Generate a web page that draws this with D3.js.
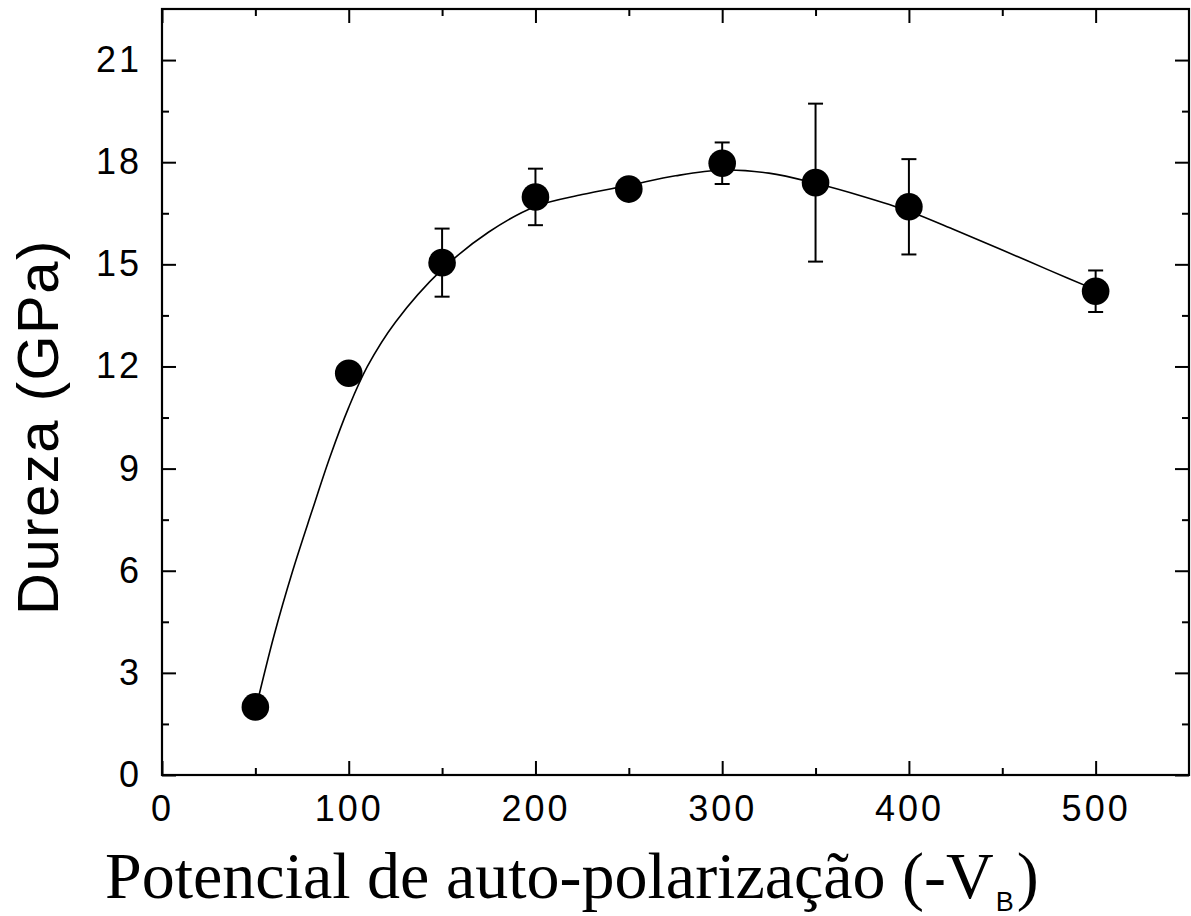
<!DOCTYPE html>
<head>
<meta charset='utf-8'>
<style>
  body { margin: 0; background: #fff; }
  .ticks text { font-family: 'Liberation Sans', Arial, sans-serif; font-size: 36px; letter-spacing: 3px; fill: #000; }
  .ticks line { stroke: #000; stroke-width: 2px; }
  .ticks path { display: none; }
</style>
</head>
<body>
<div id='vis'></div>
<script src='https://d3js.org/d3.v7.min.js'></script>
<script>
  // measured points
  const vb = [50, 100, 150, 200, 250, 300, 350, 400, 500]
  const hardness = [2.0, 11.8, 15.05, 16.98, 17.21, 17.97, 17.4, 16.69, 14.21]
  const err = [0, 0, 1.0, 0.83, 0, 0.61, 2.32, 1.4, 0.61]

  // fitted curve
  const fitX = [50, 60, 70, 80, 90, 100, 110, 125, 150, 175, 200, 225, 250, 275, 300, 325, 350, 375, 400, 425, 450, 475, 500]
  const fitY = [1.9, 4.1, 6.0, 7.7, 9.35, 10.8, 12.0, 13.3, 14.85, 15.95, 16.7, 17.05, 17.32, 17.6, 17.77, 17.68, 17.38, 17.0, 16.56, 16.0, 15.42, 14.83, 14.25]

  const xMajor = [0, 100, 200, 300, 400, 500]
  const xMinor = [50, 150, 250, 350, 450]
  const yMajor = [0, 3, 6, 9, 12, 15, 18, 21]
  const yMinor = [1.5, 4.5, 7.5, 10.5, 13.5, 16.5, 19.5]

  const margin = {top: 9, right: 2, bottom: 141, left: 162},
    width = 1191 - margin.left - margin.right,
    height = 916 - margin.top - margin.bottom

  const x = d3.scaleLinear().domain([0, 550]).range([0, width])
  const y = d3.scaleLinear().domain([0, 22.5]).range([height, 0])

  const svg = d3.select('#vis').append('svg')
    .attr('width', 1191)
    .attr('height', 916)

  const g = svg.append('g')
    .attr('transform', `translate(${margin.left}, ${margin.top})`)

  // ticks (inward, on all four sides)
  g.append('g').attr('class', 'ticks')
    .attr('transform', `translate(0, ${height})`)
    .call(d3.axisBottom(x).tickValues(xMajor).tickSizeInner(-14).tickSizeOuter(0).tickPadding(20))
  g.append('g').attr('class', 'ticks')
    .attr('transform', `translate(0, ${height})`)
    .call(d3.axisBottom(x).tickValues(xMinor).tickSizeInner(-7).tickSizeOuter(0).tickFormat(''))
  g.append('g').attr('class', 'ticks')
    .call(d3.axisTop(x).tickValues(xMajor).tickSizeInner(-14).tickSizeOuter(0).tickFormat(''))
  g.append('g').attr('class', 'ticks')
    .call(d3.axisTop(x).tickValues(xMinor).tickSizeInner(-7).tickSizeOuter(0).tickFormat(''))

  g.append('g').attr('class', 'ticks')
    .call(d3.axisLeft(y).tickValues(yMajor).tickSizeInner(-14).tickSizeOuter(0).tickPadding(20))
  g.append('g').attr('class', 'ticks')
    .call(d3.axisLeft(y).tickValues(yMinor).tickSizeInner(-7).tickSizeOuter(0).tickFormat(''))
  g.append('g').attr('class', 'ticks')
    .attr('transform', `translate(${width}, 0)`)
    .call(d3.axisRight(y).tickValues(yMajor).tickSizeInner(-14).tickSizeOuter(0).tickFormat(''))
  g.append('g').attr('class', 'ticks')
    .attr('transform', `translate(${width}, 0)`)
    .call(d3.axisRight(y).tickValues(yMinor).tickSizeInner(-7).tickSizeOuter(0).tickFormat(''))

  // frame
  g.append('rect')
    .attr('width', width)
    .attr('height', height)
    .attr('fill', 'none')
    .attr('stroke', '#000')
    .attr('stroke-width', 2.2)

  // fit line
  const line = d3.line()
    .x((d, i) => x(fitX[i]))
    .y(d => y(d))
    .curve(d3.curveCatmullRom)

  g.append('path')
    .datum(fitY)
    .attr('d', line)
    .attr('fill', 'none')
    .attr('stroke', '#000')
    .attr('stroke-width', 1.6)

  // error bars
  const eb = g.selectAll('.err')
    .data(vb.map((v, i) => ({v, h: hardness[i], e: err[i]})).filter(d => d.e > 0))
    .enter().append('g')
    .attr('class', 'err')
    .attr('stroke', '#000')
    .attr('stroke-width', 2)

  eb.append('line')
    .attr('x1', d => x(d.v)).attr('x2', d => x(d.v))
    .attr('y1', d => y(d.h - d.e)).attr('y2', d => y(d.h + d.e))
  eb.append('line')
    .attr('x1', d => x(d.v) - 7.5).attr('x2', d => x(d.v) + 7.5)
    .attr('y1', d => y(d.h + d.e)).attr('y2', d => y(d.h + d.e))
  eb.append('line')
    .attr('x1', d => x(d.v) - 7.5).attr('x2', d => x(d.v) + 7.5)
    .attr('y1', d => y(d.h - d.e)).attr('y2', d => y(d.h - d.e))

  // points
  g.selectAll('.pt')
    .data(vb)
    .enter().append('circle')
    .attr('class', 'pt')
    .attr('cx', d => x(d))
    .attr('cy', (d, i) => y(hardness[i]))
    .attr('r', 13.8)
    .attr('fill', '#000')

  // axis titles
  svg.append('text')
    .attr('transform', `translate(58, 427) rotate(-90)`)
    .attr('text-anchor', 'middle')
    .style('font-family', "'Liberation Sans', Arial, sans-serif")
    .style('font-size', '58px')
    .style('letter-spacing', '1.5px')
    .text('Dureza (GPa)')

  const xt = svg.append('text')
    .attr('x', 105)
    .attr('y', 898)
    .style('font-family', "'Liberation Serif', 'Times New Roman', serif")
    .style('font-size', '66px')
  xt.append('tspan').text('Potencial de auto-polarização (-V')
  xt.append('tspan')
    .attr('dy', 13)
    .attr('dx', 2)
    .style('font-family', "'Liberation Sans', Arial, sans-serif")
    .style('font-size', '27px')
    .text('B')
  xt.append('tspan')
    .attr('dy', -13)
    .attr('dx', 3)
    .text(')')
</script>
</body>
